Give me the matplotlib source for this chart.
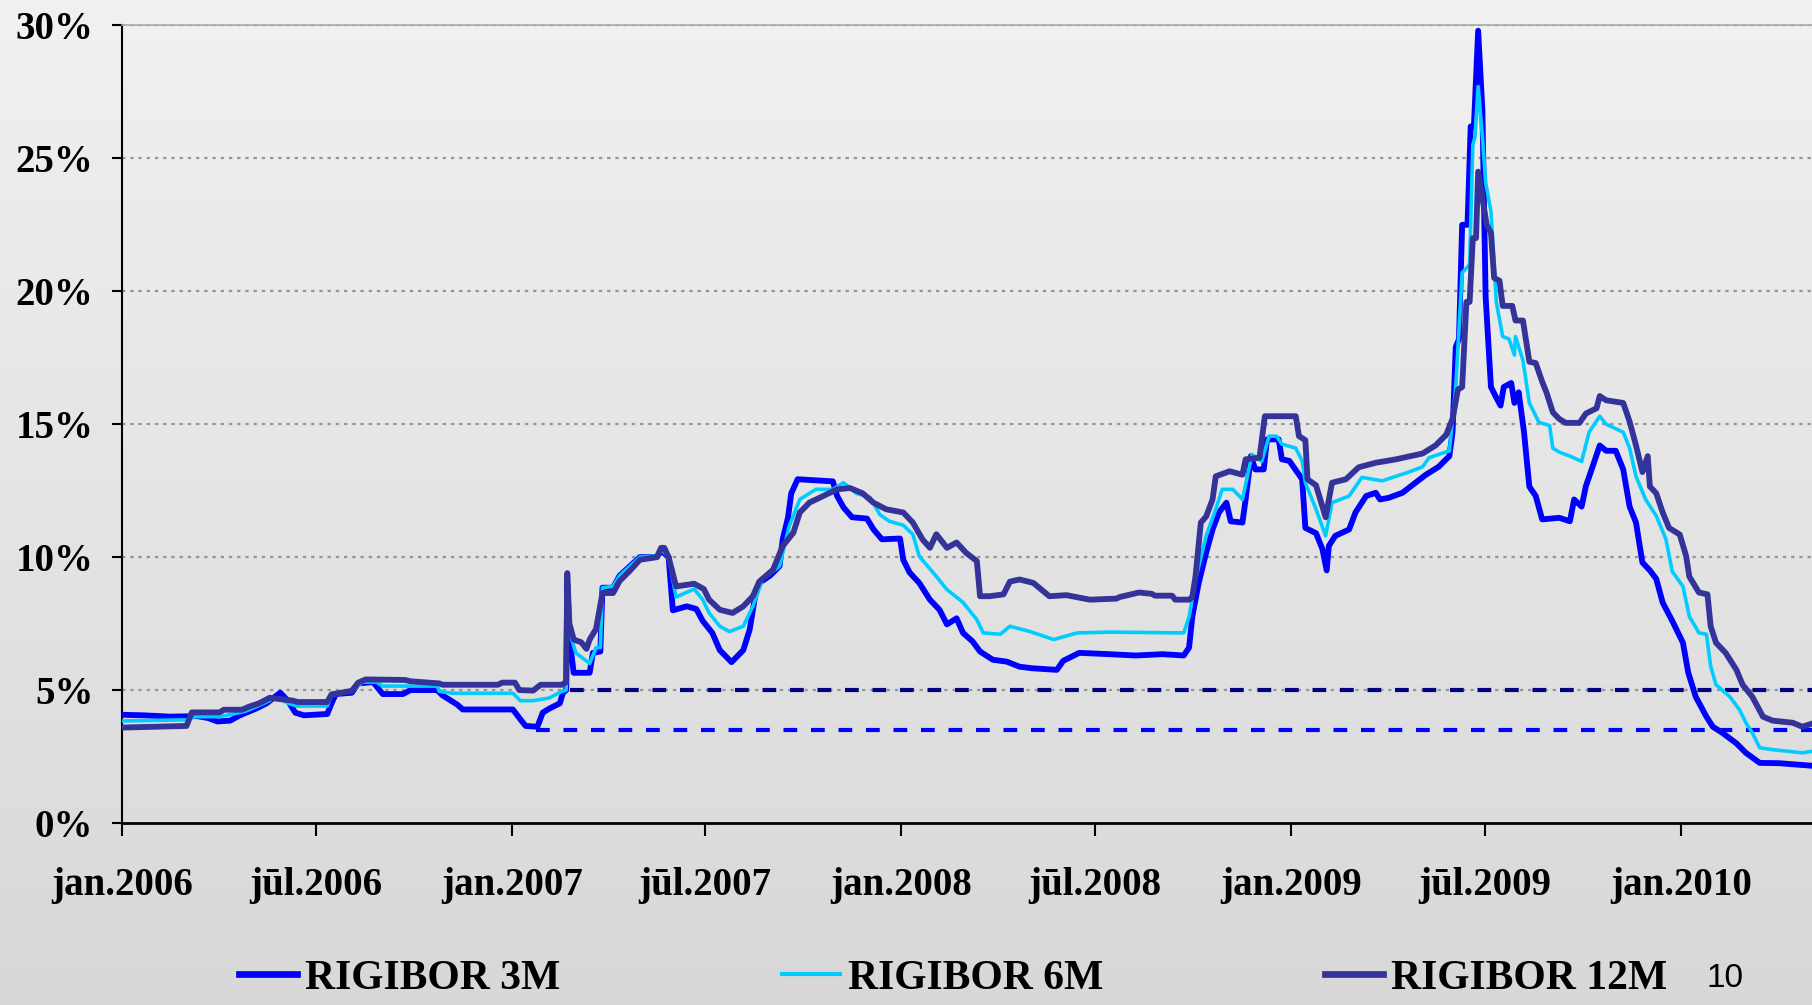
import numpy as np
import matplotlib
matplotlib.use("Agg")
from matplotlib import pyplot as plt
from matplotlib.lines import Line2D

# RIGIBOR rates, % ; days counted from 2006-01-01
d3m = [0, 20, 45, 70, 80, 89, 101, 110, 125, 135, 143, 148, 155, 162, 170, 192, 196, 200, 215, 221,
       235, 240, 244, 263, 270, 295, 300, 308, 314, 319, 366, 373, 378, 389, 394, 400, 410, 413, 416, 417,
       419, 423, 438, 441, 448, 450, 460, 466, 476, 485, 501, 505, 512, 516, 529, 538, 544, 553, 560, 571,
       582, 588, 593, 597, 607, 616, 619, 624, 627, 633, 666, 670, 676, 684, 698, 704, 712, 729, 732, 738,
       747, 757, 766, 773, 782, 788, 797, 804, 816, 829, 841, 853, 876, 882, 897, 925, 950, 975, 995, 1000,
       1003, 1009, 1016, 1022, 1028, 1035, 1039, 1050, 1053, 1058, 1062, 1070, 1073, 1084, 1087, 1094, 1106, 1109, 1119, 1125,
       1129, 1131, 1137, 1150, 1156, 1166, 1175, 1179, 1187, 1200, 1209, 1222, 1234, 1244, 1247, 1250, 1253, 1256, 1261, 1264,
       1267, 1271, 1275, 1278, 1283, 1288, 1292, 1295, 1302, 1305, 1309, 1314, 1319, 1325, 1331, 1347, 1357, 1361, 1368, 1372,
       1378, 1385, 1391, 1400, 1407, 1413, 1419, 1425, 1432, 1438, 1444, 1453, 1463, 1468, 1475, 1485, 1491, 1500, 1513, 1522,
       1535, 1553, 1569, 1585]
v3m = [4.07, 4.05, 4.0, 4.02, 3.95, 3.82, 3.85, 4.05, 4.3, 4.5, 4.75, 4.9, 4.6, 4.15, 4.05, 4.1, 4.5, 4.85, 4.9, 5.25,
       5.3, 5.05, 4.85, 4.85, 5.0, 5.0, 4.8, 4.6, 4.45, 4.27, 4.27, 3.9, 3.65, 3.62, 4.15, 4.3, 4.5, 4.9, 5.0, 9.0,
       7.0, 5.65, 5.65, 6.4, 6.45, 8.85, 8.85, 9.3, 9.67, 10.0, 10.0, 10.25, 10.0, 8.0, 8.15, 8.05, 7.6, 7.15, 6.5, 6.05,
       6.5, 7.27, 8.5, 9.03, 9.3, 9.66, 10.67, 11.5, 12.4, 12.93, 12.85, 12.3, 11.87, 11.5, 11.45, 11.05, 10.67, 10.7, 9.9, 9.42,
       9.03, 8.4, 8.02, 7.47, 7.7, 7.15, 6.83, 6.45, 6.14, 6.07, 5.88, 5.82, 5.76, 6.1, 6.4, 6.35, 6.3, 6.35, 6.3, 6.6,
       7.76, 9.03, 10.17, 11.04, 11.68, 12.05, 11.35, 11.3, 12.17, 13.8, 13.3, 13.3, 14.43, 14.43, 13.68, 13.62, 12.93, 11.1, 10.9, 10.3,
       9.5, 10.42, 10.8, 11.04, 11.68, 12.3, 12.42, 12.17, 12.23, 12.42, 12.7, 13.1, 13.4, 13.8, 14.7, 17.9, 18.2, 22.5, 22.5, 26.2,
       26.2, 29.8, 26.8, 19.8, 16.4, 16.0, 15.7, 16.4, 16.55, 15.8, 16.2, 14.7, 12.65, 12.3, 11.42, 11.48, 11.35, 12.17, 11.9, 12.67,
       13.37, 14.2, 14.0, 14.0, 13.3, 11.9, 11.3, 9.8, 9.5, 9.18, 8.29, 7.6, 6.78, 5.65, 4.75, 4.0, 3.62, 3.39, 3.0, 2.64,
       2.26, 2.25, 2.2, 2.15]

d6m = [0, 60, 68, 91, 100, 115, 130, 140, 147, 155, 164, 192, 196, 215, 225, 238, 244, 295, 297, 310,
       366, 373, 385, 400, 412, 416, 417, 419, 425, 438, 444, 448, 450, 460, 466, 476, 485, 501, 505, 512,
       519, 536, 544, 550, 560, 569, 582, 591, 600, 616, 625, 635, 650, 666, 676, 688, 701, 710, 719, 732,
       741, 747, 760, 773, 788, 801, 807, 823, 832, 851, 873, 895, 926, 995, 1000, 1006, 1016, 1025, 1031, 1041,
       1050, 1059, 1068, 1075, 1082, 1087, 1100, 1106, 1109, 1119, 1128, 1134, 1150, 1162, 1181, 1206, 1219, 1225, 1244, 1250,
       1256, 1263, 1266, 1268, 1271, 1275, 1278, 1283, 1288, 1294, 1300, 1305, 1306, 1313, 1319, 1328, 1338, 1341, 1347, 1357,
       1368, 1375, 1385, 1391, 1407, 1413, 1419, 1428, 1438, 1447, 1453, 1463, 1469, 1478, 1485, 1489, 1494, 1507, 1516, 1522,
       1528, 1535, 1547, 1575, 1585]
v6m = [3.84, 3.88, 4.0, 4.0, 4.07, 4.2, 4.45, 4.65, 4.7, 4.5, 4.4, 4.4, 4.8, 4.95, 5.3, 5.3, 5.15, 5.15, 4.95, 4.88,
       4.88, 4.6, 4.6, 4.7, 4.95, 5.0, 9.2, 7.2, 6.4, 6.0, 6.6, 6.6, 8.85, 8.9, 9.3, 9.67, 10.0, 10.05, 10.3, 10.0,
       8.5, 8.8, 8.4, 7.9, 7.4, 7.2, 7.4, 8.15, 9.16, 9.66, 11.16, 12.17, 12.55, 12.55, 12.8, 12.4, 12.25, 11.6, 11.35, 11.2,
       10.86, 10.03, 9.42, 8.78, 8.3, 7.65, 7.15, 7.1, 7.4, 7.2, 6.9, 7.15, 7.18, 7.15, 7.76, 9.15, 10.8, 11.8, 12.55, 12.55,
       12.17, 13.86, 13.6, 14.55, 14.55, 14.25, 14.1, 13.62, 12.8, 11.8, 10.8, 12.05, 12.3, 13.0, 12.87, 13.2, 13.4, 13.74, 14.0, 16.4,
       20.7, 21.0, 25.5, 25.8, 27.7, 25.8, 24.1, 23.0, 19.6, 18.3, 18.2, 17.6, 18.3, 17.4, 15.8, 15.07, 14.95, 14.1, 13.95, 13.8,
       13.6, 14.7, 15.3, 15.0, 14.7, 14.1, 13.04, 12.17, 11.55, 10.68, 9.46, 8.9, 7.77, 7.15, 7.1, 5.9, 5.2, 4.75, 4.26, 3.77,
       3.39, 2.83, 2.76, 2.64, 2.7]

d12m = [0, 30, 60, 65, 91, 95, 112, 119, 128, 138, 150, 160, 164, 192, 196, 215, 221, 228, 265, 270,
        297, 300, 352, 356, 368, 372, 385, 392, 412, 416, 417, 419, 423, 430, 435, 438, 444, 450, 460, 466,
        476, 485, 501, 505, 508, 512, 519, 536, 545, 550, 560, 572, 582, 591, 597, 610, 619, 629, 635, 644,
        660, 670, 682, 694, 704, 716, 732, 741, 750, 757, 763, 773, 782, 791, 801, 804, 813, 826, 832, 841,
        854, 869, 885, 907, 932, 935, 953, 965, 968, 984, 987, 1000, 1003, 1006, 1011, 1016, 1022, 1025, 1038, 1050,
        1053, 1066, 1071, 1100, 1103, 1109, 1111, 1119, 1128, 1134, 1147, 1159, 1175, 1194, 1219, 1231, 1241, 1247, 1252, 1256,
        1260, 1263, 1266, 1269, 1271, 1275, 1279, 1283, 1286, 1291, 1294, 1303, 1306, 1313, 1319, 1325, 1331, 1335, 1341, 1347,
        1353, 1366, 1372, 1382, 1385, 1391, 1407, 1413, 1419, 1425, 1430, 1432, 1438, 1444, 1450, 1460, 1466, 1469, 1478, 1486,
        1489, 1494, 1503, 1513, 1519, 1528, 1538, 1547, 1566, 1575, 1585]
v12m = [3.59, 3.62, 3.65, 4.16, 4.16, 4.26, 4.26, 4.38, 4.5, 4.71, 4.65, 4.6, 4.55, 4.55, 4.84, 4.97, 5.28, 5.4, 5.38, 5.33,
        5.25, 5.2, 5.2, 5.28, 5.28, 5.0, 4.98, 5.2, 5.2, 5.3, 9.4, 7.5, 6.9, 6.8, 6.55, 6.9, 7.3, 8.65, 8.65, 9.1,
        9.5, 9.9, 10.0, 10.35, 10.35, 10.0, 8.9, 9.0, 8.8, 8.4, 8.02, 7.9, 8.15, 8.53, 9.08, 9.53, 10.42, 10.92, 11.68, 12.05,
        12.36, 12.55, 12.6, 12.4, 12.05, 11.8, 11.68, 11.3, 10.67, 10.35, 10.86, 10.35, 10.55, 10.16, 9.85, 8.53, 8.53, 8.6, 9.08, 9.16,
        9.03, 8.53, 8.57, 8.4, 8.44, 8.5, 8.67, 8.62, 8.55, 8.55, 8.4, 8.4, 8.5, 9.27, 11.3, 11.53, 12.17, 13.04, 13.23, 13.1,
        13.68, 13.74, 15.3, 15.3, 14.55, 14.4, 12.93, 12.7, 11.5, 12.8, 12.93, 13.38, 13.55, 13.68, 13.9, 14.2, 14.6, 15.2, 16.3, 16.4,
        19.6, 19.6, 22.0, 22.0, 24.5, 23.5, 22.5, 22.2, 20.5, 20.4, 19.45, 19.45, 18.9, 18.9, 17.35, 17.3, 16.6, 16.2, 15.45, 15.2,
        15.05, 15.05, 15.4, 15.6, 16.06, 15.9, 15.8, 15.1, 14.2, 13.2, 13.8, 12.66, 12.4, 11.68, 11.1, 10.85, 10.04, 9.27, 8.67, 8.6,
        7.4, 6.78, 6.4, 5.77, 5.2, 4.75, 4.0, 3.85, 3.77, 3.62, 3.75]

# dashed reference levels (start day, level %)
ref_navy = (420, 5.0)
ref_blue = (388, 3.5)

series_names = ["RIGIBOR 3M", "RIGIBOR 6M", "RIGIBOR 12M"]
tick_dates = ["2006-01-01", "2006-07-01", "2007-01-01", "2007-07-01", "2008-01-01",
              "2008-07-01", "2009-01-01", "2009-07-01", "2010-01-01"]
tick_labels = ["jan.2006", "jūl.2006", "jan.2007", "jūl.2007", "jan.2008",
               "jūl.2008", "jan.2009", "jūl.2009", "jan.2010"]

base = np.datetime64("2006-01-01")
def todate(days):
    return base + np.array(days).astype("timedelta64[D]")

serif = ["Liberation Serif", "DejaVu Serif"]

fig = plt.figure(figsize=(18.12, 10.05), dpi=100)

# grey gradient background
bg = fig.add_axes([0, 0, 1, 1], zorder=0)
grad = np.linspace(0, 1, 256).reshape(-1, 1)
bg.imshow(grad, aspect="auto", cmap=matplotlib.colors.LinearSegmentedColormap.from_list(
    "g", ["#f1f1f1", "#d8d8d8"]), extent=[0, 1, 0, 1])
bg.axis("off")

ax = fig.add_axes([0.0676, 0.1811, 0.9324, 0.7936], zorder=1)
ax.patch.set_alpha(0)

colors = ["#0000ff", "#00ccff", "#333399"]
widths = [4.2, 2.6, 4.2]
for d, v, c, w, n in zip([d3m, d6m, d12m], [v3m, v6m, v12m], colors, widths, series_names):
    ax.plot(todate(d), v, color=c, lw=w, label=n, zorder=4,
            solid_joinstyle="round", solid_capstyle="round")

xmax = np.datetime64("2010-05-04")
ax.hlines(ref_navy[1], todate([ref_navy[0]])[0], xmax, colors="#000080", lw=3,
          linestyles=(0, (3.3, 3.3)), zorder=3)
ax.hlines(ref_blue[1], todate([ref_blue[0]])[0], xmax, colors="#0000ff", lw=3,
          linestyles=(0, (3.3, 3.3)), zorder=3)

ax.set_xlim(base, xmax)
ax.set_ylim(0, 30)
ax.set_yticks(range(0, 31, 5))
ax.set_yticklabels([f"{t}%" for t in range(0, 31, 5)])
ax.set_xticks(np.array(tick_dates, dtype="datetime64[D]"))
ax.set_xticklabels(tick_labels)

for t in range(5, 31, 5):
    ax.axhline(t, color="#969696", lw=1.6, linestyle=(0, (1.5, 2.2)), zorder=1)

for lab in ax.get_xticklabels() + ax.get_yticklabels():
    lab.set_fontfamily(serif)
    lab.set_fontweight("bold")
    lab.set_fontsize(28)

ax.tick_params(axis="x", direction="out", length=9, width=1.5, pad=23, colors="black")
ax.tick_params(axis="y", direction="out", length=7, width=1.5, pad=14, colors="black")
ax.spines["right"].set_visible(False)
ax.spines["top"].set_color("#a8a8a8")
ax.spines["top"].set_linewidth(1.2)
ax.spines["left"].set_linewidth(1.5)
ax.spines["bottom"].set_linewidth(2)

handles = [Line2D([], [], color=c, lw=w * 1.15) for c, w in zip(colors, widths)]
fig.legend(handles, series_names, loc="center", bbox_to_anchor=(0.526, 0.026), ncol=3,
           frameon=False, prop={"family": serif, "weight": "bold", "size": 30},
           handlelength=1.4, handletextpad=0.2, columnspacing=5.3,
           borderpad=0, borderaxespad=0)

fig.text(0.952, 0.026, "10", fontsize=24, family=["Liberation Sans", "DejaVu Sans"],
         ha="center", va="center")

fig.savefig("out.png", dpi=100)
